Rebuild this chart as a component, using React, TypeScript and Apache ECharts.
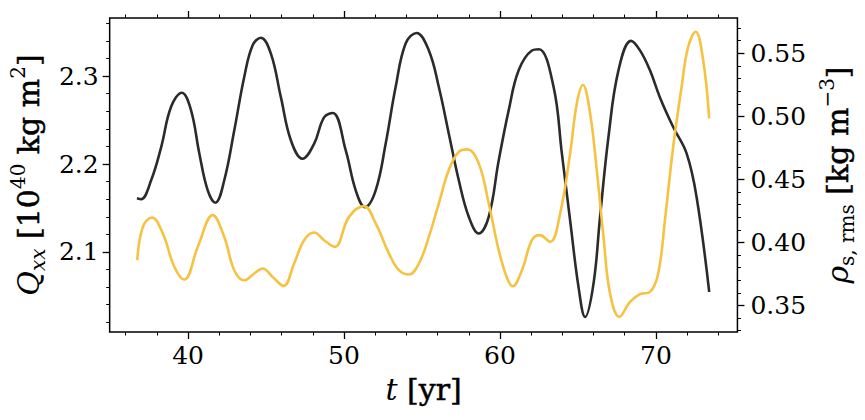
import React, { useEffect, useRef } from "react";
import * as echarts from "echarts";

// Quadrupole moment Q_xx (left axis, 10^40 kg m^2)
const tQ = [
  36.72, 36.99, 37.63, 38.27, 38.91, 39.6, 40.19, 40.72, 41.26, 41.75,
  42.32, 42.96, 43.6, 44.14, 44.67, 45.31, 45.95, 46.59, 47.34, 48.08,
  48.72, 49.28, 50.11, 50.75, 51.34, 52.03, 52.67, 53.31, 53.95, 54.65,
  55.44, 56.08, 56.72, 57.36, 58.0, 58.64, 59.28, 59.92, 60.56, 61.2,
  62.05, 62.5, 63.44, 63.97, 64.5, 65.04, 65.46, 66.0, 66.42, 66.96,
  67.6, 68.41, 68.98, 69.62, 70.26, 71.11, 71.97, 72.61, 73.42,
];
const qxx = [
  2.161, 2.16, 2.1815, 2.219, 2.265, 2.281, 2.261, 2.212, 2.17, 2.156,
  2.1815, 2.238, 2.299, 2.335, 2.3436, 2.3255, 2.276, 2.227, 2.206, 2.223,
  2.253, 2.258, 2.2155, 2.17, 2.151, 2.17, 2.223, 2.2875, 2.337, 2.349,
  2.329, 2.2875, 2.2345, 2.1815, 2.14, 2.121, 2.14, 2.204, 2.261, 2.3065,
  2.329, 2.3305, 2.2875, 2.212, 2.136, 2.06, 2.026, 2.064, 2.14, 2.231,
  2.3065, 2.34, 2.3292, 2.3065, 2.2757, 2.242, 2.212, 2.1625, 2.0545,
];

// rms density fluctuation rho_s,rms (right axis, kg m^-3)
const tRho = [
  36.74, 37.1, 37.68, 38.38, 39.12, 39.76, 40.62, 41.58, 42.32, 42.96,
  43.6, 44.24, 44.78, 45.42, 46.12, 46.8, 47.44, 48.08, 48.72, 49.4,
  50.32, 51.28, 52.03, 52.88, 53.52, 54.16, 54.8, 55.44, 56.08, 56.72,
  57.36, 57.93, 58.64, 59.28, 59.92, 60.45, 60.81, 61.41, 62.05, 62.55,
  63.22, 63.86, 64.5, 64.93, 65.32, 65.78, 66.21, 66.64, 67.06, 67.66,
  68.34, 68.98, 69.62, 70.15, 70.58, 71.11, 71.65, 72.07, 72.55, 73.03,
  73.42,
];
const rho = [
  0.386, 0.4124, 0.4198, 0.4071, 0.3806, 0.3706, 0.3965, 0.4217, 0.4044, 0.378,
  0.37, 0.3754, 0.3794, 0.3727, 0.3656, 0.3833, 0.4018, 0.4079, 0.4018, 0.3965,
  0.4203, 0.4288, 0.4151, 0.3913, 0.378, 0.3746, 0.3833, 0.4044, 0.431, 0.4574,
  0.4719, 0.4738, 0.4627, 0.431, 0.3939, 0.372, 0.3653, 0.378, 0.4018, 0.4058,
  0.4005, 0.423, 0.4706, 0.5103, 0.5249, 0.5024, 0.4574, 0.4044, 0.3595, 0.341,
  0.3529, 0.359, 0.3608, 0.3754, 0.4177, 0.4759, 0.5235, 0.5552, 0.5671, 0.5447,
  0.4984,
];

const xMajor = [40, 50, 60, 70];
const xMinor = [36, 38, 42, 44, 46, 48, 52, 54, 56, 58, 62, 64, 66, 68, 72, 74];
const qMajor = [2.1, 2.2, 2.3];
const qMinor = [2.02, 2.04, 2.06, 2.08, 2.12, 2.14, 2.16, 2.18, 2.22, 2.24, 2.26, 2.28, 2.32, 2.34, 2.36];
const rMajor = [0.35, 0.4, 0.45, 0.5, 0.55];
const rMinor = [
  0.33, 0.34, 0.36, 0.37, 0.38, 0.39, 0.41, 0.42, 0.43, 0.44, 0.46, 0.47,
  0.48, 0.49, 0.51, 0.52, 0.53, 0.54, 0.56, 0.57,
];

const FONT = "DejaVu Serif";
const BLACK_LINE = "#2b2b2b";
const YELLOW_LINE = "#f5c242";

export default function App() {
  const ref = useRef<HTMLDivElement>(null);

  useEffect(() => {
    document.body.style.margin = "0";
    if (!ref.current) return;
    const chart = echarts.init(ref.current, null, { renderer: "svg" });

    const xRange = { type: "value", min: 34.97, max: 75.23, splitLine: { show: false }, axisLine: { show: false } };
    const qRange = { type: "value", min: 2.009, max: 2.366, splitLine: { show: false }, axisLine: { show: false } };
    const rRange = { type: "value", min: 0.329, max: 0.578, splitLine: { show: false }, axisLine: { show: false } };
    const majorTick = (vals: number[]) => ({ show: true, length: 7, customValues: vals, lineStyle: { color: "#000", width: 1.3 } });
    const minorTick = (vals: number[]) => ({ show: true, length: 3.5, customValues: vals, lineStyle: { color: "#000", width: 1 } });
    const noLabel = { show: false };
    const tickLabel = (vals: number[], digits: number, margin: number) => ({
      show: true,
      customValues: vals,
      margin,
      color: "#000",
      fontFamily: FONT,
      fontSize: 25,
      formatter: (v: number) => v.toFixed(digits),
    });

    const nameRich = {
      i: { fontFamily: FONT, fontStyle: "italic", fontSize: 30, lineHeight: 40, color: "#000" },
      b: { fontFamily: FONT, fontSize: 30, lineHeight: 40, color: "#000", textBorderColor: "#000", textBorderWidth: 0.5 },
      sub: { fontFamily: FONT, fontStyle: "italic", fontSize: 20, lineHeight: 22, verticalAlign: "bottom", color: "#000" },
      subu: { fontFamily: FONT, fontSize: 20, lineHeight: 22, verticalAlign: "bottom", color: "#000" },
      sup: { fontFamily: FONT, fontSize: 20, lineHeight: 22, verticalAlign: "top", color: "#000" },
    };
    const nameStyle = { fontFamily: FONT, fontSize: 30, color: "#000", rich: nameRich };

    chart.setOption({
      animation: false,
      backgroundColor: "#fff",
      grid: {
        left: 108,
        right: 127,
        top: 18,
        bottom: 88,
        show: true,
        borderColor: "#000",
        borderWidth: 1.5,
        backgroundColor: "transparent",
      },
      xAxis: [
        {
          ...xRange,
          position: "bottom",
          axisTick: majorTick(xMajor),
          axisLabel: tickLabel(xMajor, 0, 11),
          name: "{i|t} {b|[yr]}",
          nameLocation: "middle",
          nameGap: 37,
          nameTextStyle: nameStyle,
        },
        { ...xRange, position: "bottom", axisTick: minorTick(xMinor), axisLabel: noLabel },
        { ...xRange, position: "top", axisTick: majorTick(xMajor), axisLabel: noLabel },
        { ...xRange, position: "top", axisTick: minorTick(xMinor), axisLabel: noLabel },
      ],
      yAxis: [
        {
          ...qRange,
          position: "left",
          axisTick: majorTick(qMajor),
          axisLabel: tickLabel(qMajor, 1, 11),
          name: "{i|Q}{sub|xx} {b|[10}{sup|40}{b| kg m}{sup|2}{b|]}",
          nameLocation: "middle",
          nameRotate: 90,
          nameGap: 57,
          nameTextStyle: nameStyle,
        },
        { ...qRange, position: "left", axisTick: minorTick(qMinor), axisLabel: noLabel },
        {
          ...rRange,
          position: "right",
          axisTick: majorTick(rMajor),
          axisLabel: tickLabel(rMajor, 2, 13),
          name: "{i|ρ}{subu|s, rms} {b|[kg m}{sup|−3}{b|]}",
          nameLocation: "middle",
          nameRotate: 90,
          nameGap: 65,
          nameTextStyle: nameStyle,
        },
        { ...rRange, position: "right", axisTick: minorTick(rMinor), axisLabel: noLabel },
      ],
      series: [
        {
          type: "line",
          xAxisIndex: 0,
          yAxisIndex: 0,
          data: tQ.map((t, i) => [t, qxx[i]]),
          smooth: 0.4,
          showSymbol: false,
          symbol: "none",
          lineStyle: { color: BLACK_LINE, width: 2.6 },
          z: 2,
        },
        {
          type: "line",
          xAxisIndex: 0,
          yAxisIndex: 2,
          data: tRho.map((t, i) => [t, rho[i]]),
          smooth: 0.4,
          showSymbol: false,
          symbol: "none",
          lineStyle: { color: YELLOW_LINE, width: 2.6 },
          z: 3,
        },
      ],
    });

    return () => chart.dispose();
  }, []);

  return (
    <div
      ref={ref}
      style={{ position: "absolute", left: 0, top: 0, width: 865, height: 420 }}
    />
  );
}
